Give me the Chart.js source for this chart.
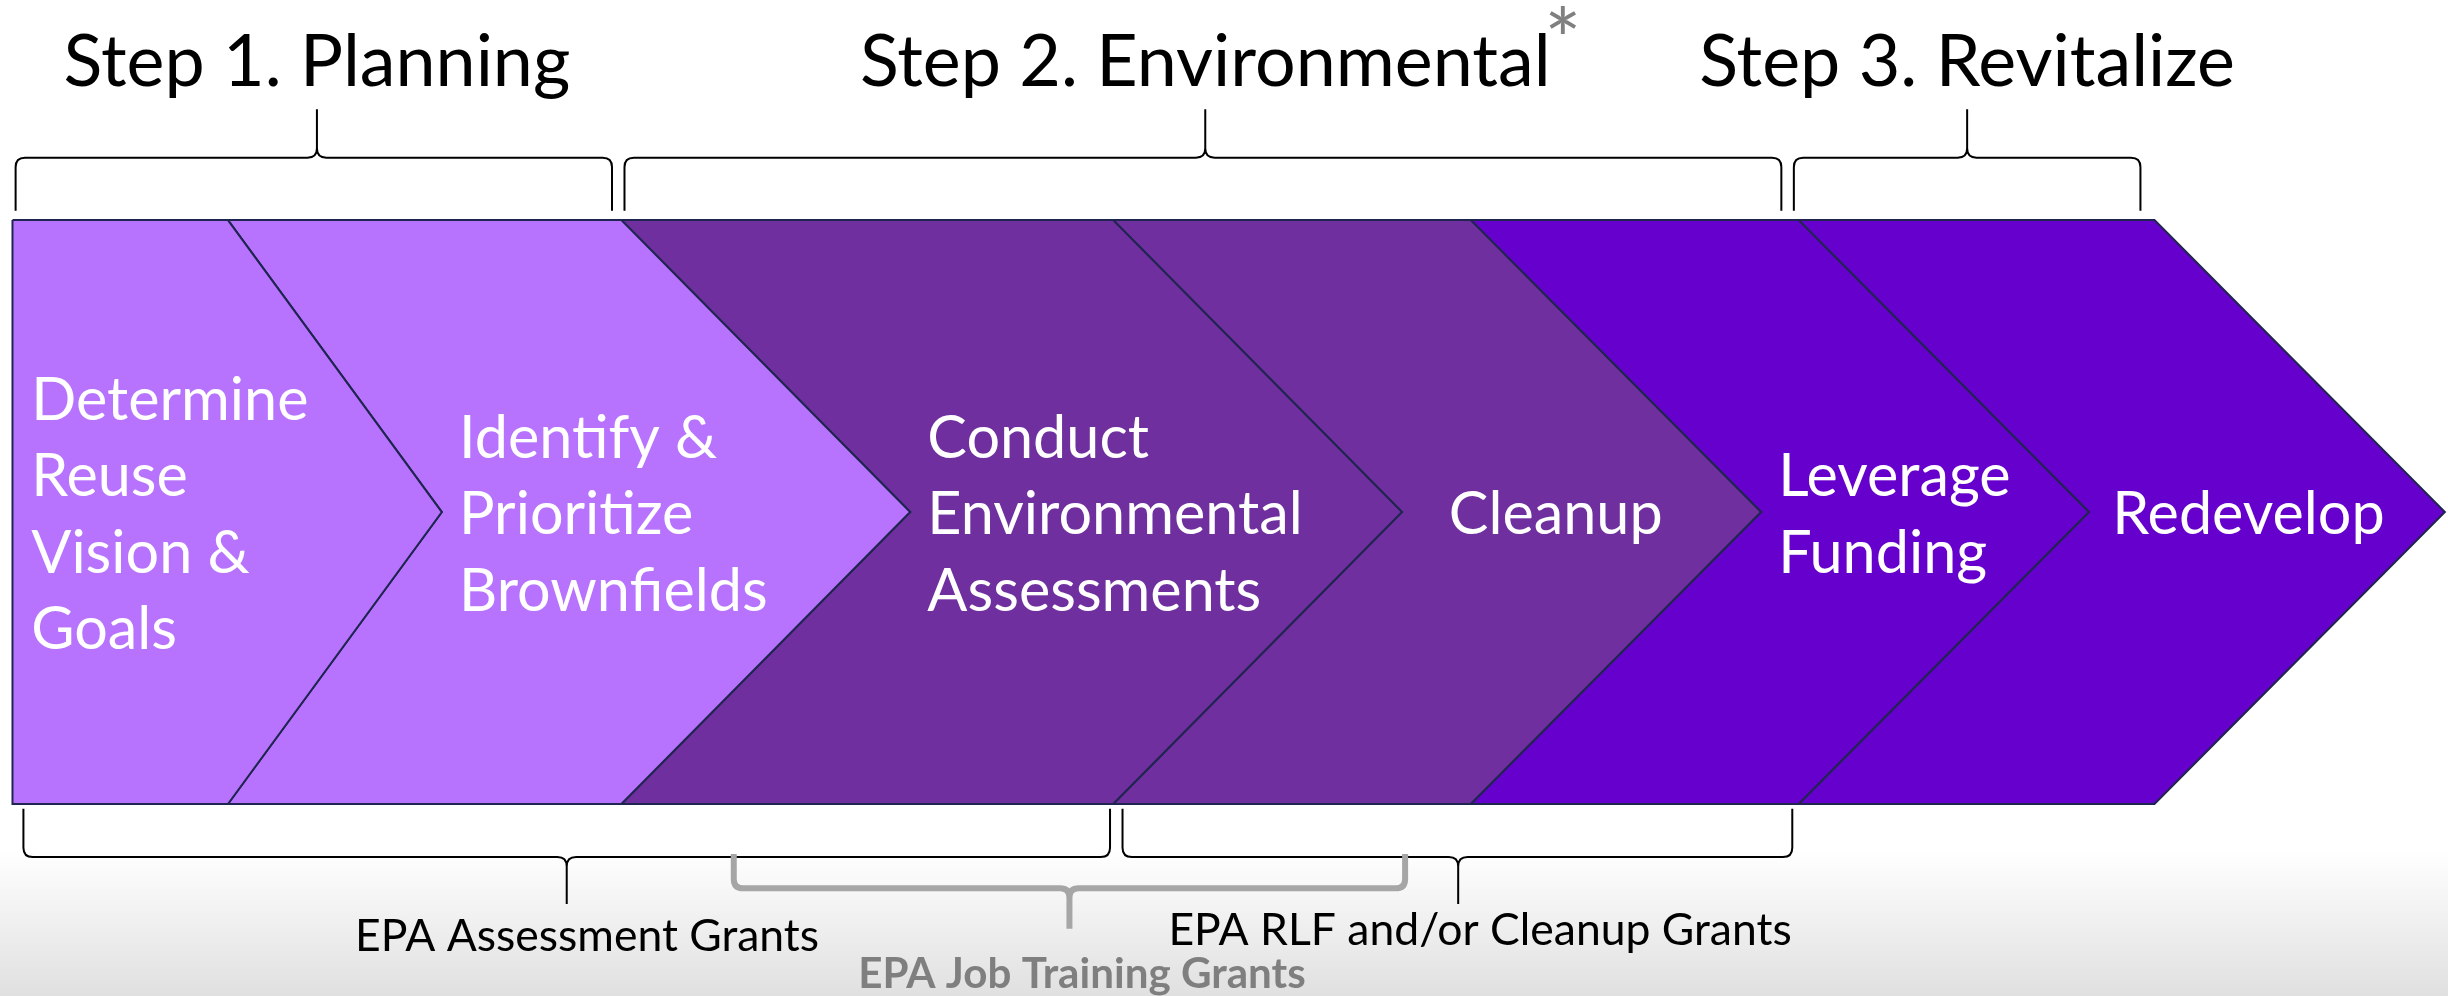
<!DOCTYPE html>
<html lang="en">
<head>
    <meta charset="UTF-8">
    <title>Brownfields Process</title>
    <script src="https://cdn.jsdelivr.net/npm/chart.js"></script>
    <style>
        html, body {
            margin: 0;
            padding: 0;
            background-color: #ffffff;
        }
        .container {
            width: 2448px;
            height: 996px;
        }
    </style>
</head>
<body>
    <div class="container">
        <canvas id="processChart" width="2448" height="996"></canvas>
    </div>

    <script>
        // Stages of the process (one chevron each)
        const stageLines = [
            ['Determine', 'Reuse', 'Vision &', 'Goals'],
            ['Identify &', 'Prioritize', 'Brownfields'],
            ['Conduct', 'Environmental', 'Assessments'],
            ['Cleanup'],
            ['Leverage', 'Funding'],
            ['Redevelop']
        ];
        const stageColors = ['#b773fe', '#b773fe', '#6f2f9f', '#6f2f9f', '#6600cc', '#6600cc'];
        // chevron geometry, in the 1568 x 638 frame of the picture
        const bandStart = 8;
        const stageEnd = [146, 398, 713, 942, 1152, 1380];
        const stageTip = [283, 583, 898, 1128, 1338, 1566];
        const stageTextX = [20, 294, 594, 928, 1139, 1353];
        const bandTop = 141, bandMid = 328, bandBottom = 515;

        // Step headings above the chevrons
        const stepLabels = ['Step 1. Planning', 'Step 2. Environmental', 'Step 3. Revitalize'];
        const stepFrom = [10, 400, 1149];
        const stepTo = [392, 1141, 1371];
        const stepMid = [203, 772, 1260];

        // Grant programs below the chevrons
        const grantLabels = ['EPA Assessment Grants', 'EPA RLF and/or Cleanup Grants', 'EPA Job Training Grants'];
        const grantFrom = [15, 719, 470];
        const grantTo = [711, 1148, 900];
        const grantMid = [363, 934, 685];
        const grantLabelX = [376, 948, 693];
        const grantLabelY = [600, 596, 624];

        // build the chevron outlines from the stage boundaries
        function chevronPoints(i) {
            const pts = [];
            if (i === 0) {
                pts.push({x: bandStart, y: bandTop});
            } else {
                pts.push({x: stageEnd[i - 1], y: bandTop});
            }
            pts.push({x: stageEnd[i], y: bandTop});
            pts.push({x: stageTip[i], y: bandMid});
            pts.push({x: stageEnd[i], y: bandBottom});
            if (i === 0) {
                pts.push({x: bandStart, y: bandBottom});
            } else {
                pts.push({x: stageEnd[i - 1], y: bandBottom});
                pts.push({x: stageTip[i - 1], y: bandMid});
            }
            pts.push(pts[0]);
            return pts;
        }

        const datasets = stageLines.map((lines, i) => ({
            label: lines.join(' '),
            data: chevronPoints(i),
            showLine: true,
            fill: 'shape',
            backgroundColor: stageColors[i],
            borderColor: '#1f2550',
            borderWidth: 2,
            pointRadius: 0,
            tension: 0
        }));

        // draw a curly brace between two x values, tip at mid
        function drawBrace(ctx, x, y, from, to, mid, lineY, endY, tipY, color, width) {
            const k = x.getPixelForValue(1) - x.getPixelForValue(0);
            const r = 6 * k;
            const s = Math.sign(endY - lineY);
            const xa = x.getPixelForValue(from), xb = x.getPixelForValue(to), xm = x.getPixelForValue(mid);
            const yl = y.getPixelForValue(lineY), ye = y.getPixelForValue(endY), yt = y.getPixelForValue(tipY);
            ctx.save();
            ctx.strokeStyle = color;
            ctx.lineWidth = width;
            ctx.lineJoin = 'round';
            ctx.beginPath();
            ctx.moveTo(xa, ye);
            ctx.lineTo(xa, yl + s * r);
            ctx.quadraticCurveTo(xa, yl, xa + r, yl);
            ctx.lineTo(xm - r, yl);
            ctx.quadraticCurveTo(xm, yl, xm, yl - s * r);
            ctx.lineTo(xm, yt);
            ctx.moveTo(xm, yl - s * r);
            ctx.quadraticCurveTo(xm, yl, xm + r, yl);
            ctx.lineTo(xb - r, yl);
            ctx.quadraticCurveTo(xb, yl, xb, yl + s * r);
            ctx.lineTo(xb, ye);
            ctx.stroke();
            ctx.restore();
        }

        const backdrop = {
            id: 'backdrop',
            beforeDraw(chart) {
                const {ctx, width, height} = chart;
                const y = chart.scales.y;
                ctx.save();
                ctx.fillStyle = '#ffffff';
                ctx.fillRect(0, 0, width, height);
                const g = ctx.createLinearGradient(0, y.getPixelForValue(545), 0, y.getPixelForValue(638));
                g.addColorStop(0, 'rgba(224,224,224,0)');
                g.addColorStop(1, 'rgba(224,224,224,1)');
                ctx.fillStyle = g;
                ctx.fillRect(0, y.getPixelForValue(545), width, height);
                ctx.restore();
            }
        };

        const annotations = {
            id: 'annotations',
            afterDatasetsDraw(chart) {
                const {ctx} = chart;
                const x = chart.scales.x, y = chart.scales.y;
                const k = x.getPixelForValue(1) - x.getPixelForValue(0);
                ctx.save();

                // text inside the chevrons
                ctx.fillStyle = '#ffffff';
                ctx.font = (38 * k) + 'px Lato';
                ctx.textAlign = 'left';
                ctx.textBaseline = 'middle';
                stageLines.forEach((lines, i) => {
                    const first = bandMid + 2 - (lines.length - 1) * 49 / 2;
                    lines.forEach((t, j) => {
                        ctx.fillText(t, x.getPixelForValue(stageTextX[i]), y.getPixelForValue(first + j * 49));
                    });
                });

                // step headings and their braces
                ctx.fillStyle = '#000000';
                ctx.font = (46 * k) + 'px Lato';
                ctx.textAlign = 'center';
                stepLabels.forEach((t, i) => {
                    ctx.fillText(t, x.getPixelForValue(stepMid[i]), y.getPixelForValue(40));
                    drawBrace(ctx, x, y, stepFrom[i], stepTo[i], stepMid[i], 101, 135, 70, '#000000', 2);
                });
                ctx.fillStyle = '#808080';
                ctx.font = (56 * k) + 'px Lato';
                ctx.textBaseline = 'alphabetic';
                ctx.fillText('*', x.getPixelForValue(1001), y.getPixelForValue(46));
                ctx.textBaseline = 'middle';

                // grant braces and labels
                drawBrace(ctx, x, y, grantFrom[0], grantTo[0], grantMid[0], 549, 518, 579, '#000000', 2);
                drawBrace(ctx, x, y, grantFrom[1], grantTo[1], grantMid[1], 549, 518, 579, '#000000', 2);
                drawBrace(ctx, x, y, grantFrom[2], grantTo[2], grantMid[2], 569, 547, 595, '#a6a6a6', 6);
                ctx.fillStyle = '#000000';
                ctx.font = (28.5 * k) + 'px Lato';
                ctx.fillText(grantLabels[0], x.getPixelForValue(grantLabelX[0]), y.getPixelForValue(grantLabelY[0]));
                ctx.fillText(grantLabels[1], x.getPixelForValue(grantLabelX[1]), y.getPixelForValue(grantLabelY[1]));
                ctx.fillStyle = '#7f7f7f';
                ctx.font = 'bold ' + (27 * k) + 'px Lato';
                ctx.fillText(grantLabels[2], x.getPixelForValue(grantLabelX[2]), y.getPixelForValue(grantLabelY[2]));
                ctx.restore();
            }
        };

        const ctx = document.getElementById('processChart').getContext('2d');
        new Chart(ctx, {
            type: 'scatter',
            data: { datasets: datasets },
            options: {
                responsive: false,
                animation: false,
                layout: { padding: 0 },
                plugins: {
                    legend: { display: false },
                    tooltip: { enabled: false }
                },
                scales: {
                    x: { type: 'linear', min: 0, max: 1568, display: false },
                    y: { type: 'linear', min: 0, max: 638, reverse: true, display: false }
                }
            },
            plugins: [backdrop, annotations]
        });
    </script>
</body>
</html>
